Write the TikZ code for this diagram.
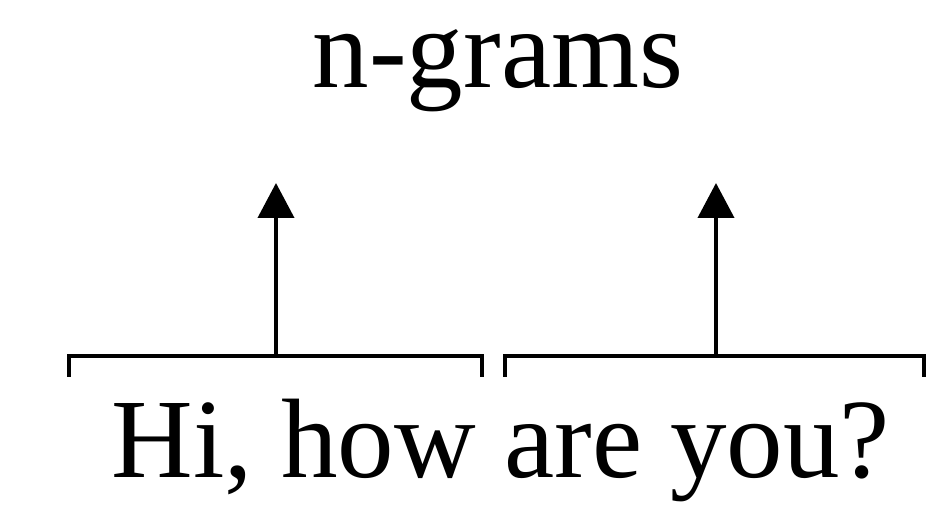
\documentclass[tikz,border=0pt]{standalone}
\usepackage{fontspec}
\setmainfont{Liberation Serif}
\usetikzlibrary{arrows.meta}
\begin{document}
\begin{tikzpicture}[x=0.5pt,y=-0.5pt,
  txt/.style={inner sep=0pt,anchor=base,font=\fontsize{56.5pt}{60pt}\selectfont},
  brk/.style={line width=2pt},
  up/.style={line width=2pt,-{Triangle[length=17.5pt,width=18pt]}}]
\useasboundingbox (0,0) rectangle (948,517);
\node[txt] (sent) at (501,478) {Hi, how are you?};
\node[txt] (ng) at (498,88) {n-grams};
\coordinate (b1) at (276,356);
\coordinate (b2) at (716,356);
\coordinate (t1) at (276,183);
\coordinate (t2) at (716,183);
\draw[brk] (69,377) -- (69,356) -- (482,356) -- (482,377);
\draw[brk] (505,377) -- (505,356) -- (924,356) -- (924,377);
\draw[up] (b1) -- (t1);
\draw[up] (b2) -- (t2);
\end{tikzpicture}
\end{document}
